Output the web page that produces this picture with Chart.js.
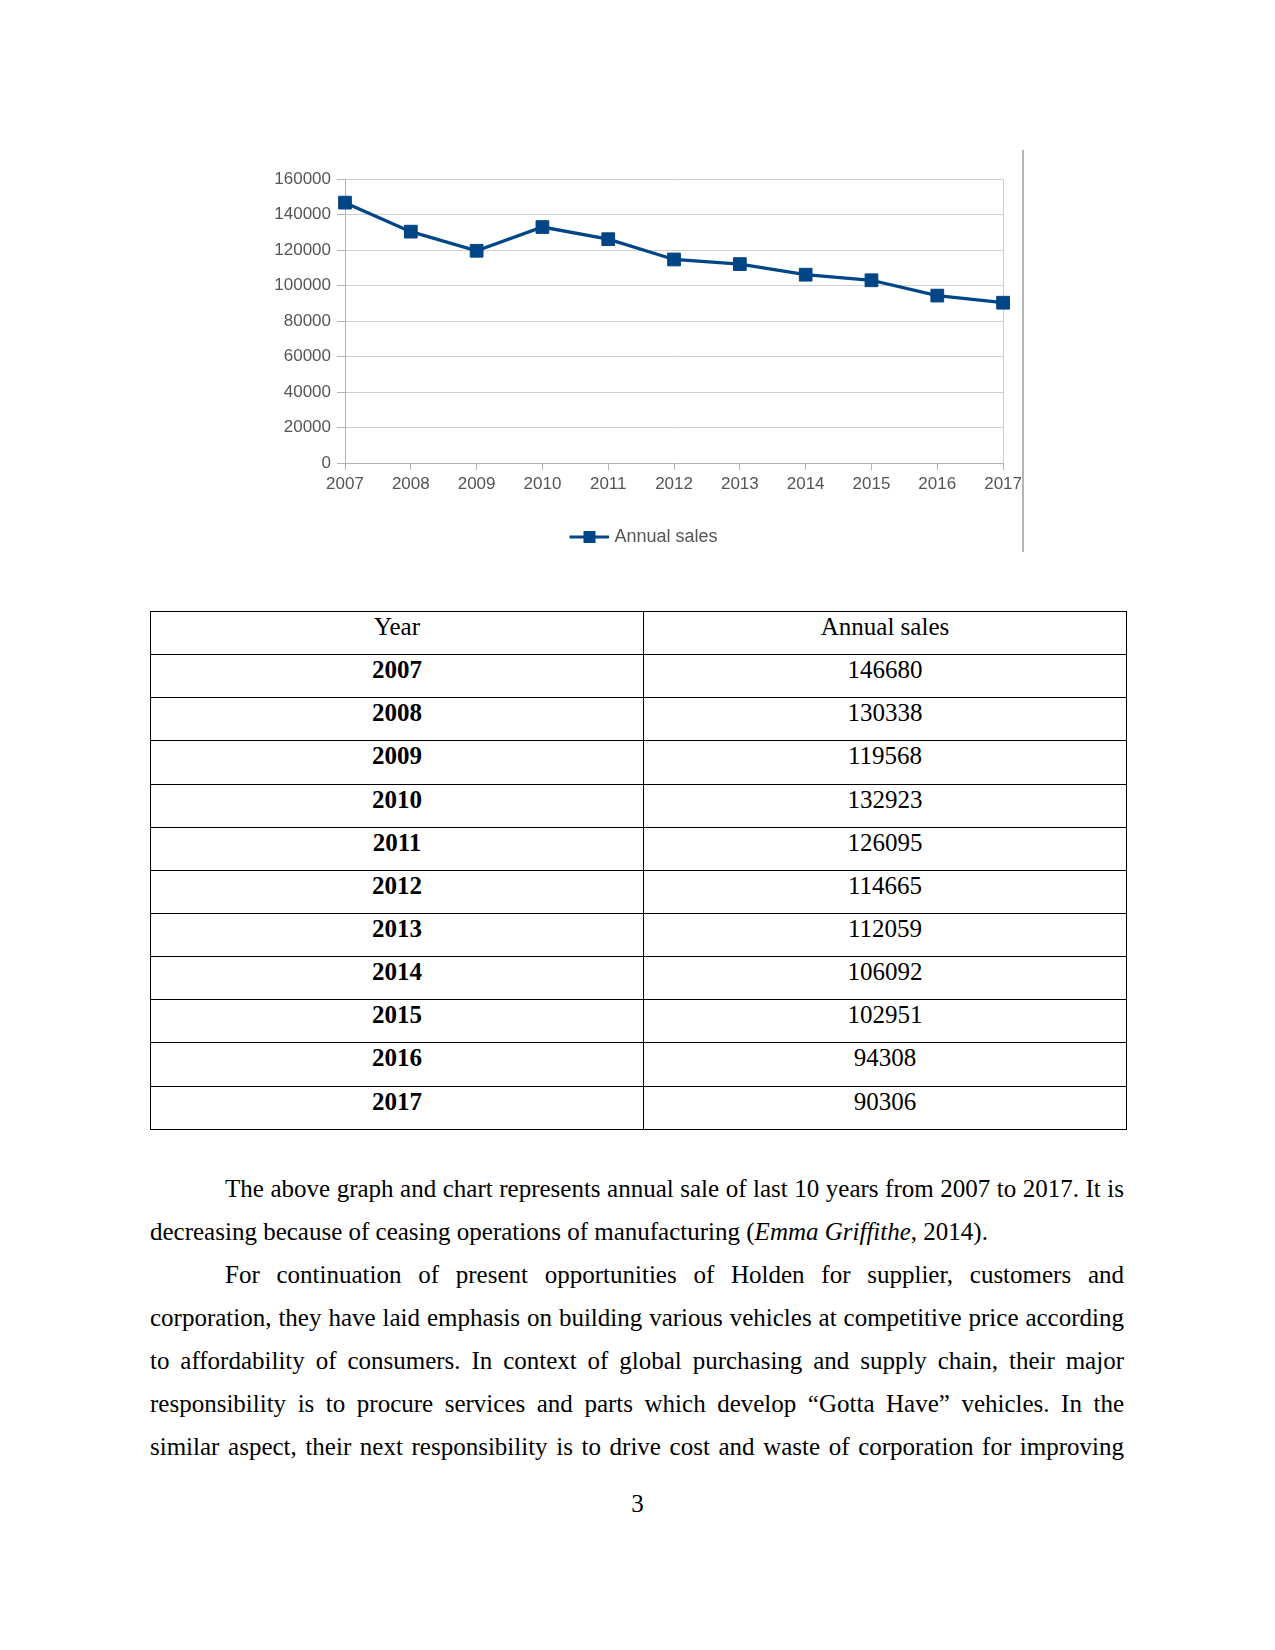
<!DOCTYPE html>
<html lang="en">
<head>
    <meta charset="UTF-8">
    <title>Annual sales</title>
    <script src="https://cdn.jsdelivr.net/npm/chart.js"></script>
    <style>
        body {
            margin: 0;
            width: 1275px;
            height: 1650px;
            background: #fff;
            position: relative;
            font-family: "Liberation Serif", "Times New Roman", serif;
            color: #000;
        }
        .chart-box {
            position: absolute;
            left: 250px;
            top: 150px;
            width: 776px;
            height: 410px;
        }
        .frame-line {
            position: absolute;
            left: 1022px;
            top: 150px;
            width: 2px;
            height: 402px;
            background: #b5b5b5;
        }
        table {
            position: absolute;
            left: 150px;
            top: 611px;
            width: 977px;
            border-collapse: collapse;
            font-size: 25px;
        }
        td {
            border: 1px solid #000;
            height: 42.15px;
            padding: 0;
            text-align: center;
            vertical-align: top;
            line-height: 29px;
        }
        td.year { width: 492px; }
        .text {
            position: absolute;
            left: 150px;
            top: 1167px;
            width: 974px;
            font-size: 25px;
            line-height: 43px;
        }
        .text div { text-align: justify; text-align-last: justify; white-space: nowrap; }
        .text div.last { text-align-last: left; }
        .text div.indent { padding-left: 75px; }
        .page-num {
            position: absolute;
            left: 0;
            width: 1275px;
            top: 1482px;
            text-align: center;
            font-size: 25px;
            line-height: 43px;
        }
    </style>
</head>
<body>

<div class="chart-box"><canvas id="salesChart"></canvas></div>
<div class="frame-line"></div>

<table id="salesTable">
    <tbody></tbody>
</table>

<div class="text">
    <div class="indent">The above graph and chart represents annual sale of last 10 years from 2007 to 2017. It is</div>
    <div class="last">decreasing because of ceasing operations of manufacturing (<i>Emma Griffithe</i>, 2014).</div>
    <div class="indent">For continuation of present opportunities of Holden for supplier, customers and</div>
    <div>corporation, they have laid emphasis on building various vehicles at competitive price according</div>
    <div>to affordability of consumers. In context of global purchasing and supply chain, their major</div>
    <div>responsibility is to procure services and parts which develop “Gotta Have” vehicles. In the</div>
    <div>similar aspect, their next responsibility is to drive cost and waste of corporation for improving</div>
</div>

<div class="page-num">3</div>

<script>
    const years = ['2007', '2008', '2009', '2010', '2011', '2012', '2013', '2014', '2015', '2016', '2017'];
    const annualSales = [146680, 130338, 119568, 132923, 126095, 114665, 112059, 106092, 102951, 94308, 90306];
    const seriesName = 'Annual sales';
    const yMin = 0;
    const yMax = 160000;
    const yStep = 20000;

    const lineColor = '#004586';
    const gridColor = '#cfcfcf';
    const axisColor = '#b3b3b3';
    const labelColor = '#555555';

    // table
    let tbody = document.querySelector('#salesTable tbody');
    tbody.insertAdjacentHTML('beforeend', `<tr><td class="year">Year</td><td>${seriesName}</td></tr>`);
    years.forEach((y, i) => {
        tbody.insertAdjacentHTML('beforeend', `<tr><td class="year"><b>${y}</b></td><td>${annualSales[i]}</td></tr>`);
    });

    // legend icon: line with a square marker (left part left blank so the
    // legend entry sits a bit right of the canvas centre, like the original)
    const legendShift = 16;
    let icon = document.createElement('canvas');
    icon.width = 40 + 2 * legendShift;
    icon.height = 14;
    let ic = icon.getContext('2d');
    ic.strokeStyle = lineColor;
    ic.lineWidth = 3;
    ic.beginPath();
    ic.moveTo(2 * legendShift, 7);
    ic.lineTo(2 * legendShift + 40, 7);
    ic.stroke();
    ic.fillStyle = lineColor;
    ic.fillRect(2 * legendShift + 14, 1, 12, 12);

    var ctx = document.getElementById('salesChart').getContext('2d');
    var salesChart = new Chart(ctx, {
        type: 'line',
        data: {
            labels: years,
            datasets: [{
                label: seriesName,
                data: annualSales,
                borderColor: lineColor,
                backgroundColor: lineColor,
                borderWidth: 3.3,
                pointStyle: 'rect',
                pointRadius: 9,
                pointBorderWidth: 1,
                tension: 0
            }]
        },
        options: {
            responsive: true,
            maintainAspectRatio: false,
            animation: false,
            layout: { padding: { top: 29, right: 17, left: 0, bottom: 4 } },
            plugins: {
                tooltip: { enabled: false },
                legend: {
                    position: 'bottom',
                    labels: {
                        color: labelColor,
                        font: { family: 'Liberation Sans', size: 18 },
                        usePointStyle: true,
                        pointStyleWidth: 32 + 2 * legendShift,
                        generateLabels: chart => chart.data.datasets.map((ds, i) => ({
                            text: ds.label,
                            pointStyle: icon,
                            fontColor: labelColor,
                            datasetIndex: i,
                            lineWidth: 0
                        }))
                    }
                }
            },
            scales: {
                x: {
                    offset: false,
                    afterFit: scale => { scale.height = 55; },
                    grid: {
                        offset: false,
                        color: c => c.index === years.length - 1 ? gridColor : 'rgba(0,0,0,0)',
                        tickColor: axisColor,
                        tickLength: 7
                    },
                    border: { color: axisColor, width: 1 },
                    ticks: {
                        color: labelColor,
                        font: { family: 'Liberation Sans', size: 17 },
                        maxRotation: 0,
                        padding: 4
                    }
                },
                y: {
                    min: yMin,
                    max: yMax,
                    afterFit: scale => { scale.width = 95; },
                    grid: {
                        color: gridColor,
                        tickColor: axisColor,
                        tickLength: 8
                    },
                    border: { color: axisColor, width: 1 },
                    ticks: {
                        stepSize: yStep,
                        color: labelColor,
                        font: { family: 'Liberation Sans', size: 17 },
                        padding: 6,
                        callback: v => String(v)
                    }
                }
            }
        }
    });
</script>

</body>
</html>
